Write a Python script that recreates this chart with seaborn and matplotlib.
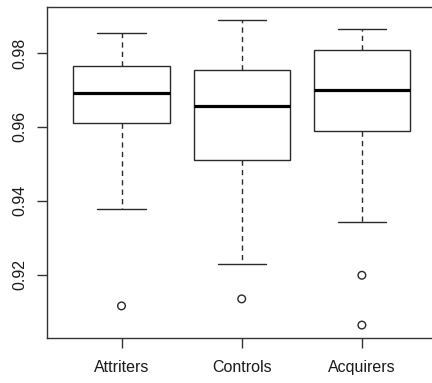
import numpy as np
import pandas as pd
import matplotlib
matplotlib.use("Agg")
import matplotlib.pyplot as plt
import seaborn as sns

# ---- data (five-number summaries) ----
groups = ["Attriters", "Controls", "Acquirers"]
lower_whisker = [0.9377, 0.9228, 0.9343]
q1 = [0.9610, 0.9510, 0.9590]
median = [0.9692, 0.9657, 0.9699]
q3 = [0.9766, 0.9755, 0.9808]
upper_whisker = [0.9854, 0.9891, 0.9865]
outlier_group = ["Attriters", "Controls", "Acquirers", "Acquirers"]
outlier_value = [0.9115, 0.9134, 0.9198, 0.9063]
y_ticks = [0.92, 0.94, 0.96, 0.98]
y_tick_labels = ["0.92", "0.94", "0.96", "0.98"]

rows = []
for g, a, b, c, d, e in zip(groups, lower_whisker, q1, median, q3, upper_whisker):
    for v in (a, b, c, d, e):
        rows.append({"group": g, "value": v})
df = pd.DataFrame(rows)
out_df = pd.DataFrame({"group": outlier_group, "value": outlier_value})

sns.set_style("white")
plt.rcParams["font.family"] = ["Liberation Sans", "DejaVu Sans"]

fig = plt.figure(figsize=(4.32, 3.83), dpi=100)
W, H = 432, 383
left, right, top, bottom = 47.0, 436.4, 7.0, 338.0
ax = fig.add_axes([left / W, 1 - bottom / H, (right - left) / W, (bottom - top) / H])

line_col = "#2a2a2a"
sns.boxplot(
    data=df, x="group", y="value", order=groups, ax=ax,
    whis=np.inf, showfliers=False, width=0.8, color="white",
    linecolor=line_col, linewidth=1.0, saturation=1,
    medianprops=dict(color="black", linewidth=2.3),
    whiskerprops=dict(linestyle=(0, (3.8, 3)), color=line_col, linewidth=1.0),
    capprops=dict(color=line_col, linewidth=1.0),
    capwidths=0.4,
)
sns.stripplot(
    data=out_df, x="group", y="value", order=groups, ax=ax,
    jitter=False, size=5.5, color="white", edgecolor=line_col, linewidth=1.0,
)
for coll in ax.collections:
    coll.set_facecolor("none")
    coll.set_edgecolor(line_col)

ax.set_xlim(-0.62, 2.62)
ax.set_ylim(0.9028, 0.9925)
ax.set_yticks(y_ticks)
ax.set_yticklabels(y_tick_labels, rotation=90, va="center")
ax.set_xlabel("")
ax.set_ylabel("")
ax.tick_params(axis="both", labelsize=11.5, colors="#333333", length=7, width=1.0,
               direction="out", left=True, bottom=True)
ax.tick_params(axis="y", pad=7)
ax.tick_params(axis="x", pad=9)
for tl in ax.get_xticklabels() + ax.get_yticklabels():
    tl.set_color("#1a1a1a")
for s in ax.spines.values():
    s.set_visible(True)
    s.set_color("#333333")
    s.set_linewidth(1.0)
ax.grid(False)

fig.savefig("out.png", dpi=100)
